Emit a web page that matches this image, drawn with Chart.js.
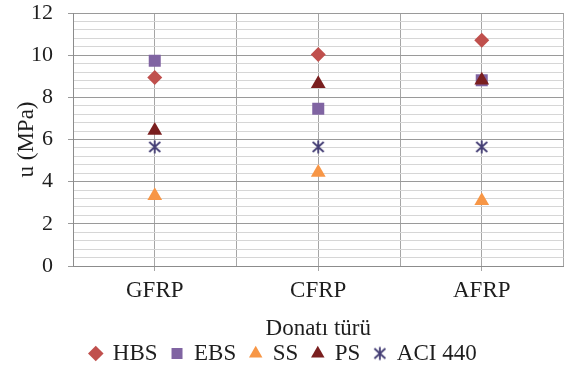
<!DOCTYPE html>
<html>
<head>
<meta charset="utf-8">
<script src="https://cdn.jsdelivr.net/npm/chart.js@4"></script>
<style>
  html, body { margin: 0; padding: 0; background: #fff; }
  #wrap { width: 572px; height: 374px; }
</style>
</head>
<body>
<div id="wrap"><canvas id="chart" width="572" height="374"></canvas></div>
<script>
// ---- data ----
const categories = ["GFRP", "CFRP", "AFRP"];
const seriesNames = ["HBS", "EBS", "SS", "PS", "ACI 440"];
const hbsValues = [8.94, 10.03, 10.71];
const ebsValues = [9.73, 7.46, 8.81];
const ssValues = [3.33, 4.44, 3.10];
const psValues = [6.43, 8.65, 8.81];
const aciValues = [5.65, 5.65, 5.65];
const yTickLabels = [0, 2, 4, 6, 8, 10, 12];

const textColor = "#1e1e1e";
const serif = "'Liberation Serif', 'Times New Roman', serif";

// Excel style "star" marker: an X with a vertical stroke
function makeStar(color) {
  const c = document.createElement("canvas");
  c.width = 16;
  c.height = 16;
  const g = c.getContext("2d");
  g.strokeStyle = color;
  g.lineWidth = 1.8;
  g.beginPath();
  g.moveTo(2.5, 3); g.lineTo(13.5, 13);
  g.moveTo(13.5, 3); g.lineTo(2.5, 13);
  g.moveTo(8, 1.5); g.lineTo(8, 14.5);
  g.stroke();
  return c;
}

function toPoints(values) {
  return values.map((v, i) => ({ x: i + 1, y: v }));
}

const seriesValues = [hbsValues, ebsValues, ssValues, psValues, aciValues];
const seriesColors = ["#c0504d", "#8064a2", "#f79646", "#7a1f1f", "#433d74"];
const seriesStyles = ["rectRot", "rect", "triangle", "triangle", makeStar("#433d74")];
const seriesRadius = [7.5, 8.5, 8.5, 8.5, 8];

const datasets = seriesNames.map((name, i) => ({
  label: name,
  data: toPoints(seriesValues[i]),
  pointStyle: seriesStyles[i],
  pointRadius: seriesRadius[i],
  pointHoverRadius: seriesRadius[i],
  backgroundColor: seriesColors[i],
  borderColor: seriesColors[i],
  borderWidth: 0,
  showLine: false,
  // later series are drawn on top, as in the original
  order: seriesNames.length - 1 - i,
}));

const isMajor = (v) => Math.abs(v / 2 - Math.round(v / 2)) < 1e-6;
const isInt = (v) => Math.abs(v - Math.round(v)) < 1e-6;

new Chart(document.getElementById("chart"), {
  type: "scatter",
  data: { datasets },
  options: {
    responsive: false,
    animation: false,
    layout: { padding: { top: 0, right: 5, bottom: -1, left: 0 } },
    plugins: {
      tooltip: { enabled: false },
      legend: {
        position: "bottom",
        labels: {
          usePointStyle: true,
          boxWidth: 11,
          boxHeight: 11,
          padding: 14,
          color: textColor,
          font: { family: serif, size: 23 },
          sort: (a, b) => a.datasetIndex - b.datasetIndex,
        },
      },
    },
    scales: {
      x: {
        type: "linear",
        min: 0.5,
        max: 3.5,
        afterFit: (scale) => { scale.height = 62; },
        ticks: {
          stepSize: 0.5,
          autoSkip: false,
          maxRotation: 0,
          padding: 6,
          color: textColor,
          font: { family: serif, size: 23 },
          callback: (v) => (isInt(v) ? categories[Math.round(v) - 1] : ""),
        },
        grid: {
          color: "#a6a6a6",
          lineWidth: 1,
          tickLength: 5,
          tickColor: (ctx) => (isInt(ctx.tick.value) ? "#a6a6a6" : "rgba(0,0,0,0)"),
        },
        border: { color: "#8c8c8c" },
        title: {
          display: true,
          text: "Donatı türü",
          color: textColor,
          font: { family: serif, size: 23 },
          padding: { top: 0, bottom: -15 },
        },
      },
      y: {
        min: 0,
        max: 12,
        afterFit: (scale) => {
          scale.width = 73;
          scale.paddingTop = 13;
          scale.paddingBottom = 0;
        },
        ticks: {
          stepSize: 0.4,
          autoSkip: false,
          padding: 15,
          color: textColor,
          font: { family: serif, size: 22 },
          callback: (v) => {
            const hit = yTickLabels.find((t) => Math.abs(t - v) < 1e-6);
            return hit === undefined ? "" : String(hit);
          },
        },
        grid: {
          color: (ctx) => (isMajor(ctx.tick.value) ? "#9a9a9a" : "#d6d6d6"),
          lineWidth: 1,
          tickLength: 5,
          tickColor: (ctx) => (isMajor(ctx.tick.value) ? "#9a9a9a" : "rgba(0,0,0,0)"),
        },
        border: { color: "#8c8c8c" },
        title: {
          display: true,
          text: "u (MPa)",
          color: textColor,
          font: { family: serif, size: 23 },
          padding: { top: 13, bottom: 0 },
        },
      },
    },
  },
});
</script>
</body>
</html>
